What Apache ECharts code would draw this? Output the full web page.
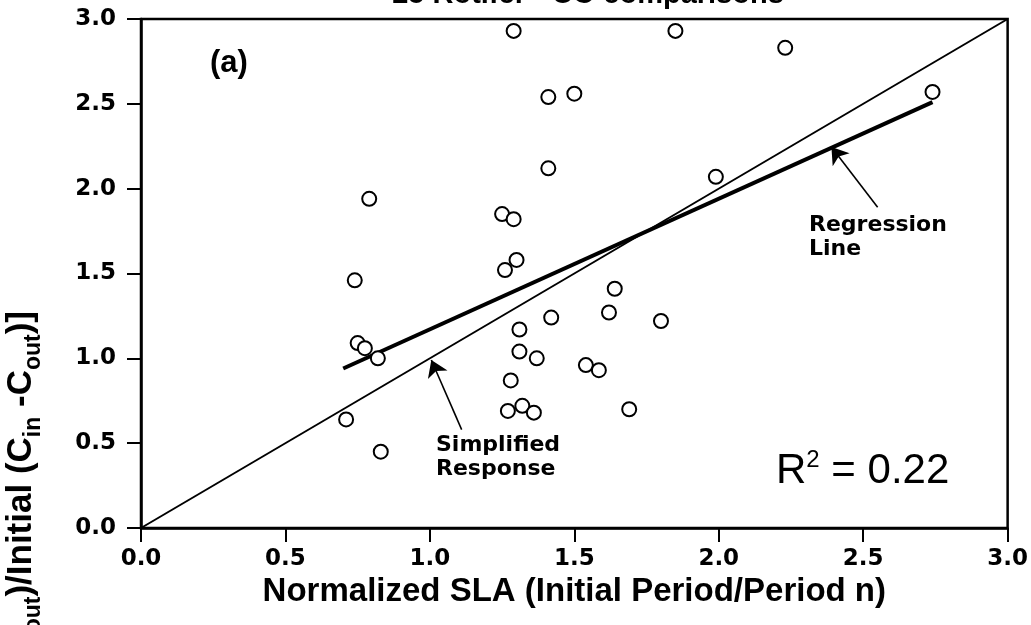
<!DOCTYPE html>
<html>
<head>
<meta charset="utf-8">
<script src="https://cdn.jsdelivr.net/npm/echarts@6/dist/echarts.min.js"></script>
<style>
html,body{margin:0;padding:0;background:#fff;}
#chart{width:1031px;height:625px;}
</style>
</head>
<body>
<div id="chart"></div>
<script>
// Observed points: normalized SLA (x) vs normalized response (y)
const slaX = [1.29, 1.41, 1.50, 1.41, 0.79, 1.25, 1.29, 1.30, 1.26, 0.74,
              1.85, 2.23, 2.74, 1.99, 1.64, 0.75, 0.775, 0.82, 1.42, 1.31,
              1.31, 1.37, 1.28, 1.27, 1.32, 1.36, 1.54, 0.71, 0.83, 1.62,
              1.80, 1.585, 1.69];
const respY = [2.93, 2.54, 2.56, 2.12, 1.94, 1.85, 1.82, 1.58, 1.52, 1.46,
               2.93, 2.83, 2.57, 2.07, 1.41, 1.09, 1.06, 1.00, 1.24, 1.17,
               1.04, 1.00, 0.87, 0.69, 0.72, 0.68, 0.96, 0.64, 0.45, 1.27,
               1.22, 0.93, 0.70];
// Simplified response line (1:1)
const simpleX = [0, 3];
const simpleY = [0, 3];
// Regression line end points
const regX = [0.70, 2.74];
const regY = [0.94, 2.51];
// Annotation arrows: [from, to]
const arrowRegression = [[2.55, 1.89], [2.39, 2.245]];
const arrowSimplified = [[1.11, 0.58], [1.005, 0.99]];
// Tick labels
const xTicks = ['0.0', '0.5', '1.0', '1.5', '2.0', '2.5', '3.0'];
const yTicks = ['0.0', '0.5', '1.0', '1.5', '2.0', '2.5', '3.0'];
const r2Text = '0.22';

const chart = echarts.init(document.getElementById('chart'), null, {renderer: 'canvas'});
const pts = slaX.map((x, i) => [x, respY[i]]);
const tickFmt = (arr) => (v) => { const i = Math.round(v / 0.5); return arr[i] !== undefined ? arr[i] : ''; };

const option = {
  animation: false,
  backgroundColor: '#fff',
  grid: {left: 141, right: 23, top: 19, bottom: 97, show: true, borderColor: '#000', borderWidth: 2.5, containLabel: false},
  xAxis: {
    type: 'value', min: 0, max: 3, interval: 0.5,
    axisLine: {show: true, lineStyle: {color: '#000', width: 2.5}},
    axisTick: {show: true, inside: false, length: 14, lineStyle: {color: '#000', width: 2}},
    axisLabel: {color: '#000', fontSize: 23, fontWeight: 'bold', fontFamily: 'DejaVu Sans', margin: 20, formatter: tickFmt(xTicks)},
    splitLine: {show: false},
    name: 'Normalized SLA (Initial Period/Period n)',
    nameLocation: 'middle', nameGap: 44,
    nameTextStyle: {color: '#000', fontSize: 33, fontFamily: 'Liberation Sans', fontWeight: 'bold', verticalAlign: 'top'}
  },
  yAxis: {
    type: 'value', min: 0, max: 3, interval: 0.5,
    axisLine: {show: true, lineStyle: {color: '#000', width: 2.5}},
    axisTick: {show: true, inside: false, length: 14, lineStyle: {color: '#000', width: 2}},
    axisLabel: {color: '#000', fontSize: 23, fontWeight: 'bold', fontFamily: 'DejaVu Sans', margin: 25, formatter: tickFmt(yTicks)},
    splitLine: {show: false}
  },
  series: [
    {type: 'line', data: simpleX.map((x, i) => [x, simpleY[i]]), symbol: 'none', lineStyle: {color: '#000', width: 2}, z: 2, silent: true},
    {type: 'line', data: regX.map((x, i) => [x, regY[i]]), symbol: 'none', lineStyle: {color: '#000', width: 4}, z: 2, silent: true},
    {type: 'lines', coordinateSystem: 'cartesian2d', symbol: ['none', 'arrow'], symbolSize: [9, 16],
      lineStyle: {color: '#000', width: 1.6, opacity: 1}, z: 3, silent: true,
      data: [{coords: arrowRegression}, {coords: arrowSimplified}]},
    {type: 'scatter', data: pts, symbol: 'circle', symbolSize: 14,
      itemStyle: {color: '#fff', borderColor: '#000', borderWidth: 2, opacity: 1}, z: 5}
  ],
  graphic: [
    {type: 'text', left: 210, top: 48, z: 10, style: {text: '(a)', fontSize: 31, fontWeight: 'bold', fontFamily: 'Liberation Sans', fill: '#000'}},
    {type: 'text', left: 809, top: 213, z: 10, style: {text: 'Regression\nLine', fontSize: 22, lineHeight: 24, fontWeight: 'bold', fontFamily: 'DejaVu Sans', fill: '#000'}},
    {type: 'text', left: 436, top: 433, z: 10, style: {text: 'Simplified\nResponse', fontSize: 22, lineHeight: 24, fontWeight: 'bold', fontFamily: 'DejaVu Sans', fill: '#000'}},
    {type: 'text', left: 776, top: 448, z: 10, style: {
      text: '{n|R}{s|2}{n| = ' + r2Text + '}',
      rich: {
        n: {fontSize: 42, lineHeight: 46, fontFamily: 'Liberation Sans', fill: '#000', verticalAlign: 'middle'},
        s: {fontSize: 24, lineHeight: 46, fontFamily: 'Liberation Sans', fill: '#000', verticalAlign: 'top'}
      }}},
    {type: 'text', x: 588, y: 9, z: 10, style: {text: '25 Rotifer - CO comparisons', fontSize: 29, fontWeight: 'bold', fontFamily: 'Liberation Sans', fill: '#000', align: 'center', verticalAlign: 'bottom'}},
    {type: 'text', x: 21, y: 311, rotation: Math.PI / 2, z: 10, style: {
      text: '{n|[(C}{s|in}{n| -C}{s|out}{n|)/Initial (C}{s|in}{n| -C}{s|out}{n|)]}',
      align: 'right', verticalAlign: 'middle',
      rich: {
        n: {fontSize: 35, lineHeight: 48, fontFamily: 'Liberation Sans', fontWeight: 'bold', fill: '#000', verticalAlign: 'middle'},
        s: {fontSize: 23, lineHeight: 48, fontFamily: 'Liberation Sans', fontWeight: 'bold', fill: '#000', verticalAlign: 'bottom'}
      }}}
  ]
};
chart.setOption(option);
</script>
</body>
</html>
